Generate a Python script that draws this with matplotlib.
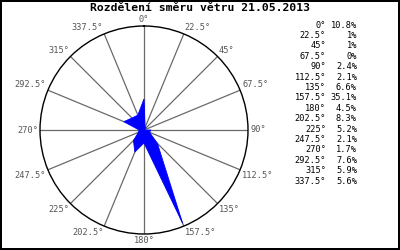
import numpy as np
import matplotlib.pyplot as plt

angles = [0, 22.5, 45, 67.5, 90, 112.5, 135, 157.5, 180, 202.5, 225, 247.5, 270, 292.5, 315, 337.5]
percent = [10.8, 1, 1, 0, 2.4, 2.1, 6.6, 35.1, 4.5, 8.3, 5.2, 2.1, 1.7, 7.6, 5.9, 5.6]
title = "Rozdělení směru větru 21.05.2013"
rmax = 36.2

fig = plt.figure(figsize=(4, 2.5), dpi=100, linewidth=1.5, edgecolor='black')
ax = fig.add_axes([0.1, 0.064, 0.52, 0.832], projection='polar')
ax.set_theta_zero_location('N')
ax.set_theta_direction(-1)
ax.set_ylim(0, rmax)

th = np.deg2rad(angles + [angles[0]])
rr = percent + [percent[0]]
ax.fill(th, rr, facecolor='#0000ff', edgecolor='#0000ff', lw=0.6, zorder=3)

ax.set_thetagrids(angles, [''] * len(angles))
ax.set_rgrids([])
ax.xaxis.grid(True, color='#6a6a6a', lw=0.9)
ax.spines['polar'].set_color('black')
ax.spines['polar'].set_linewidth(1)
ax.tick_params(length=0)

# direction labels around the circle
for a in angles:
    s, c = np.sin(np.deg2rad(a)), np.cos(np.deg2rad(a))
    ha = 'center' if abs(s) < 1e-6 else ('left' if s > 0 else 'right')
    va = 'center' if abs(c) < 1e-6 else ('bottom' if c > 0 else 'top')
    ax.text(np.deg2rad(a), rmax * 1.02, f"{a:g}°", ha=ha, va=va,
            fontsize=6.2, family='DejaVu Sans Mono', color='#555555')

fig.text(0.5, 0.968, title, ha='center', va='center', fontsize=8.2,
         fontweight='bold', family='DejaVu Sans Mono')

# legend on the right
for i, (a, p) in enumerate(zip(angles, percent)):
    y = 1 - (25 + 10.4 * i) / 250
    fig.text(326 / 400, y, f"{a:g}°", ha='right', va='center', fontsize=6.2,
             family='DejaVu Sans Mono')
    fig.text(357 / 400, y, f"{p:g}%", ha='right', va='center', fontsize=6.2,
             family='DejaVu Sans Mono')

fig.savefig('out.png', dpi=100)
